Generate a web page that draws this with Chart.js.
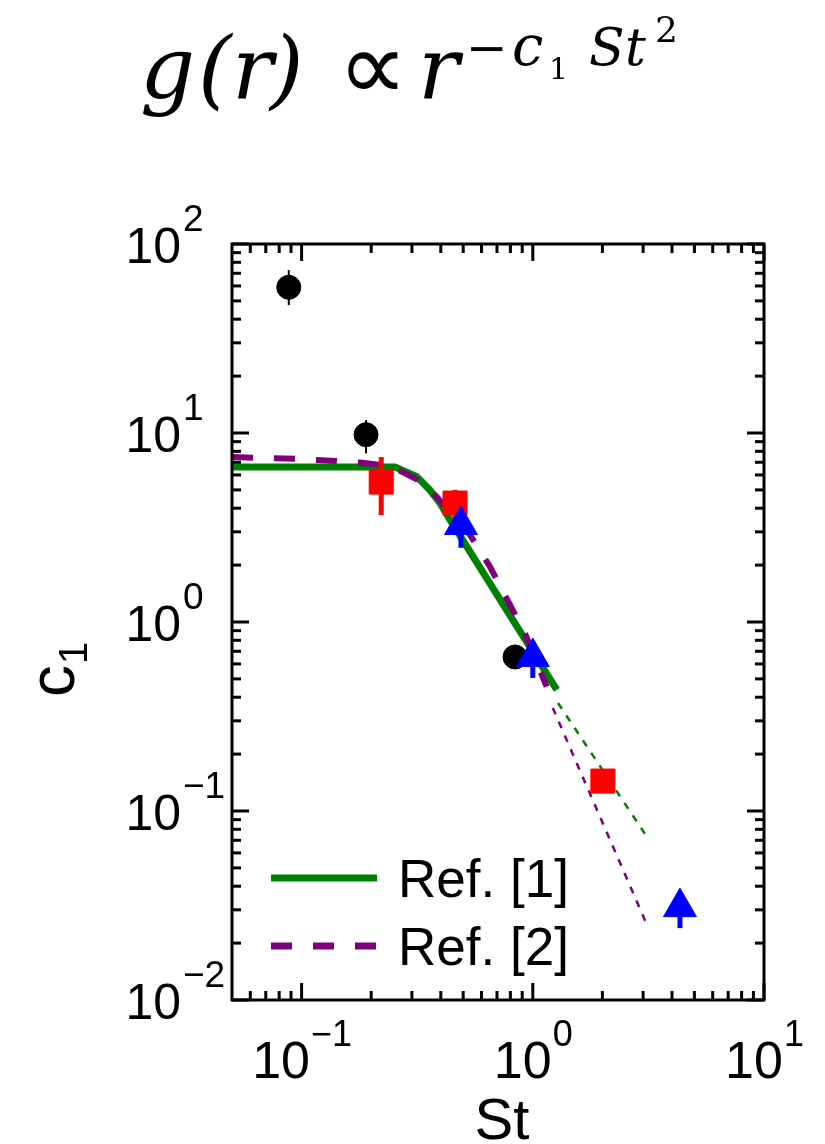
<!DOCTYPE html>
<html>
<head>
<meta charset="utf-8">
<script src="https://cdn.jsdelivr.net/npm/chart.js@4.4.0/dist/chart.umd.min.js"></script>
<style>
  html, body { margin: 0; padding: 0; background: #fff; }
</style>
</head>
<body>
<canvas id="c1Chart" width="825" height="1144"></canvas>
<script>
// values (St on x, c1 on y, both log)
const circleSt = [0.088, 0.190, 0.838];
const circleC1 = [59, 9.8, 0.653];
const circleLo = [47.5, 7.8, 0.653];
const circleHi = [72.8, 11.7, 0.653];

const squareSt = [0.221, 0.461, 2.01];
const squareC1 = [5.5, 4.26, 0.144];
const squareLo = [3.68, 3.5, 0.144];
const squareHi = [7.46, 5.0, 0.144];

const triSt = [0.489, 1.0, 4.33];
const triC1 = [3.26, 0.653, 0.031];
const triLo = [2.47, 0.506, 0.024];
const triHi = [3.26, 0.653, 0.031];

// Ref. [1] (solid) and its dotted extension
const ref1St = [0.05, 0.2535, 0.315, 0.359, 0.397, 0.4385, 1.27];
const ref1C1 = [6.6, 6.6, 5.87, 4.99, 4.25, 3.47, 0.437];
const ref1ExtSt = [1.285, 3.12];
const ref1ExtC1 = [0.373, 0.0729];

// Ref. [2] (dashed) and its dotted extension
const ref2St = [0.05, 0.098, 0.174, 0.218, 0.267, 0.325, 0.384, 0.535, 0.653, 0.925, 1.148];
const ref2C1 = [7.46, 7.29, 7.0, 6.78, 6.3, 5.57, 4.6, 2.89, 1.96, 0.871, 0.455];
const ref2ExtSt = [1.22, 3.12];
const ref2ExtC1 = [0.351, 0.0249];

const xTickVals = [0.1, 1, 10];
const xTickExps = ['\u22121', '0', '1'];
const yTickVals = [0.01, 0.1, 1, 10, 100];
const yTickExps = ['\u22122', '\u22121', '0', '1', '2'];

const GREEN = '#008000';
const PURPLE = '#7e007e';
const SANS = '"Liberation Sans", Arial, sans-serif';

const pts = (xs, ys) => xs.map((v, i) => ({ x: v, y: ys[i] }));

// error bars, drawn just before the markers of the same dataset
const errorBars = {
  id: 'errorBars',
  beforeDatasetDraw(chart, args) {
    const ds = chart.data.datasets[args.index];
    if (!ds.errLo) return;
    const { ctx, scales: { x, y } } = chart;
    ctx.save();
    ctx.strokeStyle = ds.backgroundColor;
    ctx.lineWidth = ds.errWidth;
    ds.data.forEach((p, i) => {
      const px = x.getPixelForValue(p.x);
      ctx.beginPath();
      ctx.moveTo(px, y.getPixelForValue(ds.errLo[i]));
      ctx.lineTo(px, y.getPixelForValue(ds.errHi[i]));
      ctx.stroke();
    });
    ctx.restore();
  }
};

function minorVals(lo, hi) {
  const out = [];
  for (let e = Math.floor(Math.log10(lo)); e <= Math.ceil(Math.log10(hi)); e++) {
    for (let k = 2; k <= 9; k++) {
      const v = k * Math.pow(10, e);
      if (v > lo * 1.0001 && v < hi * 0.9999) out.push(v);
    }
  }
  return out;
}

// box, inward ticks, tick labels, axis titles, legend, formula
const frame = {
  id: 'frame',
  afterDraw(chart) {
    const { ctx, chartArea: a, scales: { x, y } } = chart;
    ctx.save();
    ctx.strokeStyle = '#000';
    ctx.lineWidth = 3;
    ctx.lineCap = 'butt';
    const MAJ = 17, MIN = 9;
    const seg = (x0, y0, x1, y1) => { ctx.beginPath(); ctx.moveTo(x0, y0); ctx.lineTo(x1, y1); ctx.stroke(); };
    minorVals(x.min, x.max).forEach(v => {
      const px = x.getPixelForValue(v);
      seg(px, a.bottom, px, a.bottom - MIN);
      seg(px, a.top, px, a.top + MIN);
    });
    xTickVals.forEach(v => {
      const px = x.getPixelForValue(v);
      seg(px, a.bottom, px, a.bottom - MAJ);
      seg(px, a.top, px, a.top + MAJ);
    });
    minorVals(y.min, y.max).forEach(v => {
      const py = y.getPixelForValue(v);
      seg(a.left, py, a.left + MIN, py);
      seg(a.right, py, a.right - MIN, py);
    });
    yTickVals.forEach(v => {
      const py = y.getPixelForValue(v);
      seg(a.left, py, a.left + MAJ, py);
      seg(a.right, py, a.right - MAJ, py);
    });
    ctx.strokeRect(a.left, a.top, a.right - a.left, a.bottom - a.top);

    // tick labels
    ctx.fillStyle = '#000';
    ctx.textBaseline = 'alphabetic';
    xTickVals.forEach((v, i) => {
      const px = x.getPixelForValue(v);
      ctx.font = '52px ' + SANS; const w1 = ctx.measureText('10').width;
      ctx.font = '36px ' + SANS; const w2 = ctx.measureText(xTickExps[i]).width;
      const x0 = px - (w1 + w2) / 2;
      ctx.textAlign = 'left';
      ctx.font = '52px ' + SANS; ctx.fillText('10', x0, a.bottom + 78);
      ctx.font = '36px ' + SANS; ctx.fillText(xTickExps[i], x0 + w1 + 1, a.bottom + 46);
    });
    yTickVals.forEach((v, i) => {
      const py = y.getPixelForValue(v);
      ctx.textAlign = 'right';
      ctx.font = '50px ' + SANS; ctx.fillText('10', 181, py + 19);
      ctx.textAlign = 'left';
      ctx.font = '37px ' + SANS; ctx.fillText(yTickExps[i], 183, py - 13);
    });

    // x title
    ctx.textAlign = 'center';
    ctx.font = '58px ' + SANS;
    ctx.fillText('St', 502, 1139);

    // y title c_1, rotated
    ctx.save();
    ctx.translate(74, 670);
    ctx.rotate(-Math.PI / 2);
    ctx.textAlign = 'left';
    ctx.font = '64px ' + SANS;
    const cw = ctx.measureText('c').width;
    ctx.font = '40px ' + SANS;
    const ow = ctx.measureText('1').width;
    const sx = -(cw + ow) / 2;
    ctx.font = '64px ' + SANS;
    ctx.fillText('c', sx, 0);
    ctx.font = '40px ' + SANS;
    ctx.fillText('1', sx + cw + 1, 13);
    ctx.restore();

    // legend
    const legendRows = [
      { ds: chart.data.datasets[0], y: 878 },
      { ds: chart.data.datasets[2], y: 946 }
    ];
    legendRows.forEach(r => {
      ctx.strokeStyle = r.ds.borderColor;
      ctx.lineWidth = 7;
      ctx.setLineDash(r.ds.borderDash || []);
      seg(271, r.y, 377, r.y);
      ctx.setLineDash([]);
      ctx.fillStyle = '#000';
      ctx.textAlign = 'left';
      ctx.font = '53px ' + SANS;
      ctx.fillText(r.ds.label, 398, r.y + 19);
    });

    // formula above the plot, glyph by glyph
    const it = s => `italic ${s}px "DejaVu Serif", serif`;
    const up = s => `${s}px "DejaVu Serif", serif`;
    const glyphs = [
      { t: 'g', f: it(86), x: 140, b: 98 },
      { t: '(', f: it(86), x: 198, b: 98 },
      { t: 'r', f: it(86), x: 232, b: 98 },
      { t: ')', f: it(86), x: 270, b: 98 },
      { t: '\u221d', f: '98px "DejaVu Sans", sans-serif', x: 338, b: 100 },
      { t: 'r', f: it(86), x: 418, b: 98 },
      { t: '\u2212', f: up(50), x: 466, b: 65 },
      { t: 'c', f: it(56), x: 512, b: 65 },
      { t: '1', f: up(30), x: 549, b: 79 },
      { t: 'S', f: it(52), x: 589, b: 65 },
      { t: 't', f: it(52), x: 625, b: 65 },
      { t: '2', f: up(36), x: 655, b: 42 }
    ];
    ctx.textAlign = 'left';
    ctx.fillStyle = '#000';
    glyphs.forEach(g => { ctx.font = g.f; ctx.fillText(g.t, g.x, g.b); });
    ctx.restore();
  }
};

new Chart(document.getElementById('c1Chart'), {
  type: 'scatter',
  data: {
    datasets: [
      { label: 'Ref. [1]', data: pts(ref1St, ref1C1), showLine: true, borderColor: GREEN, borderWidth: 7, pointRadius: 0, order: 8 },
      { label: 'Ref. [1] ext', data: pts(ref1ExtSt, ref1ExtC1), showLine: true, borderColor: GREEN, borderWidth: 2.5, borderDash: [7, 8], pointRadius: 0, order: 9 },
      { label: 'Ref. [2]', data: pts(ref2St, ref2C1), showLine: true, borderColor: PURPLE, borderWidth: 6, borderDash: [21, 21], pointRadius: 0, order: 7 },
      { label: 'Ref. [2] ext', data: pts(ref2ExtSt, ref2ExtC1), showLine: true, borderColor: PURPLE, borderWidth: 2.5, borderDash: [7, 8], pointRadius: 0, order: 9 },
      { label: 'circles', data: pts(circleSt, circleC1), errLo: circleLo, errHi: circleHi, errWidth: 2,
        backgroundColor: '#000', borderColor: '#000', pointStyle: 'circle', pointRadius: 12, borderWidth: 1, order: 6 },
      { label: 'squares', data: pts(squareSt, squareC1), errLo: squareLo, errHi: squareHi, errWidth: 5,
        backgroundColor: '#ff0000', borderColor: '#ff0000', pointStyle: 'rect', pointRadius: 17, borderWidth: 1, order: 5 },
      { label: 'triangles', data: pts(triSt, triC1), errLo: triLo, errHi: triHi, errWidth: 5,
        backgroundColor: '#0000ff', borderColor: '#0000ff', pointStyle: 'triangle', pointRadius: 19, borderWidth: 1, order: 4 }
    ]
  },
  options: {
    responsive: false,
    animation: false,
    layout: { padding: { left: 232, top: 244, right: 61, bottom: 144 } },
    plugins: { legend: { display: false }, tooltip: { enabled: false } },
    scales: {
      x: { type: 'logarithmic', min: 0.05, max: 10, display: false },
      y: { type: 'logarithmic', min: 0.01, max: 100, display: false }
    }
  },
  plugins: [errorBars, frame]
});
</script>
</body>
</html>
